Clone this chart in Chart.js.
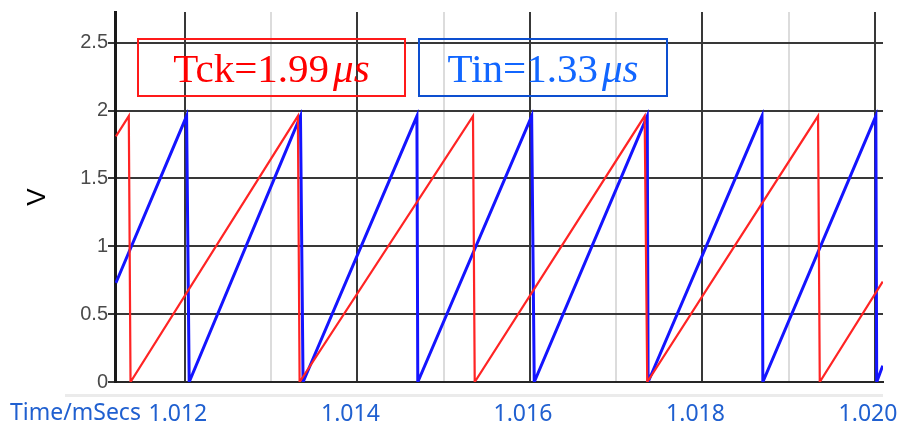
<!DOCTYPE html>
<html>
<head>
<meta charset="utf-8">
<script src="https://cdn.jsdelivr.net/npm/chart.js@4"></script>
<style>
  body { margin: 0; background: #fff; }
  #wrap { position: relative; width: 898px; height: 426px; overflow: hidden; }
  #wave-chart { position: absolute; left: 0; top: 0; }
  .note {
    position: absolute;
    box-sizing: border-box;
    display: flex;
    align-items: center;
    justify-content: center;
    font-family: "Liberation Serif", "Times New Roman", serif;
    font-size: 41px;
    white-space: nowrap;
    border: 2px solid;
  }
  .note i { margin-left: 4px; }
  #note-tck { left: 137px; top: 38px; width: 269px; height: 59px; color: #ff0000; border-color: #ff1a1a; }
  #note-tin { left: 418px; top: 38px; width: 250px; height: 59px; color: #1166ff; border-color: #0d4fd0; }
  #time-label {
    position: absolute; left: 10px; top: 395px;
    font-family: "Noto Sans", sans-serif; font-size: 23px; color: #2060d0;
  }
  #base-line { position: absolute; left: 65px; top: 394px; width: 818px; height: 3px; background: #ebebeb; }
</style>
</head>
<body>
<div id="wrap">
  <canvas id="wave-chart" width="898" height="426"></canvas>
  <div id="base-line"></div>
  <div class="note" id="note-tck">Tck=1.99<i>μs</i></div>
  <div class="note" id="note-tin">Tin=1.33<i>μs</i></div>
  <div id="time-label">Time/mSecs</div>
</div>
<script>
  // time in ms, voltage in V
  const redTime = [1.0112, 1.01135, 1.01137, 1.01331, 1.01333, 1.01534, 1.01536, 1.01733, 1.01736, 1.01934, 1.01936, 1.02009];
  const redVolt = [1.81, 1.96, 0, 1.96, 0, 1.96, 0, 1.96, 0, 1.96, 0, 0.74];

  const blueTime = [1.0112, 1.01202, 1.01205, 1.01334, 1.01337, 1.01469, 1.0147, 1.01602, 1.01605, 1.01736, 1.01737, 1.01869, 1.0187, 1.02001, 1.02002, 1.02009];
  const blueVolt = [0.73, 1.96, 0, 1.96, 0, 1.96, 0, 1.96, 0, 1.96, 0, 1.96, 0, 1.96, 0, 0.12];

  const xMin = 1.01119;
  const xMax = 1.020093;
  const yMax = 2.727;
  const xLabeled = ["1.012", "1.014", "1.016", "1.018", "1.020"];

  function toPoints(xs, ys) {
    return xs.map((x, i) => ({ x: x, y: ys[i] }));
  }

  function isMajor(value) {
    return Math.round(value * 1000) % 2 === 0;
  }

  const canvas = document.getElementById("wave-chart");

  new Chart(canvas, {
    type: "line",
    data: {
      datasets: [
        {
          label: "Tck",
          data: toPoints(redTime, redVolt),
          borderColor: "#ff2424",
          borderWidth: 2.2,
          pointRadius: 0,
          tension: 0
        },
        {
          label: "Tin",
          data: toPoints(blueTime, blueVolt),
          borderColor: "#1414ff",
          borderWidth: 3,
          pointRadius: 0,
          tension: 0
        }
      ]
    },
    options: {
      responsive: false,
      animation: false,
      layout: { padding: { left: 0, right: 15, top: 10, bottom: 0 } },
      plugins: {
        legend: { display: false },
        tooltip: { enabled: false }
      },
      scales: {
        x: {
          type: "linear",
          min: xMin,
          max: xMax,
          afterFit: scale => {
            scale.height = 44;
            scale.paddingLeft = 0;
            scale.paddingRight = 0;
          },
          border: { color: "#262626", width: 2 },
          grid: {
            drawTicks: false,
            lineWidth: 2,
            color: ctx => isMajor(ctx.tick.value) ? "#383838" : "#dcdcdc"
          },
          ticks: {
            stepSize: 0.001,
            includeBounds: false,
            autoSkip: false,
            maxRotation: 0,
            padding: 19,
            labelOffset: -7,
            color: "#2060d0",
            font: { family: "Noto Sans", size: 23 },
            callback: value => {
              const label = value.toFixed(3);
              return xLabeled.includes(label) ? label : "";
            }
          }
        },
        y: {
          min: 0,
          max: yMax,
          afterFit: scale => { scale.width = 115; },
          border: { color: "#1a1a1a", width: 3 },
          grid: {
            color: "#383838",
            lineWidth: 2,
            tickLength: 7
          },
          ticks: {
            stepSize: 0.5,
            includeBounds: false,
            padding: 0,
            color: "#4a4a4a",
            font: { family: "Liberation Sans", size: 20 },
            callback: value => String(Math.round(value * 10) / 10)
          },
          title: {
            display: true,
            text: "V",
            color: "#000",
            padding: { top: 22, bottom: 0 },
            font: { family: "Liberation Sans", size: 26 }
          }
        }
      }
    }
  });
</script>
</body>
</html>
